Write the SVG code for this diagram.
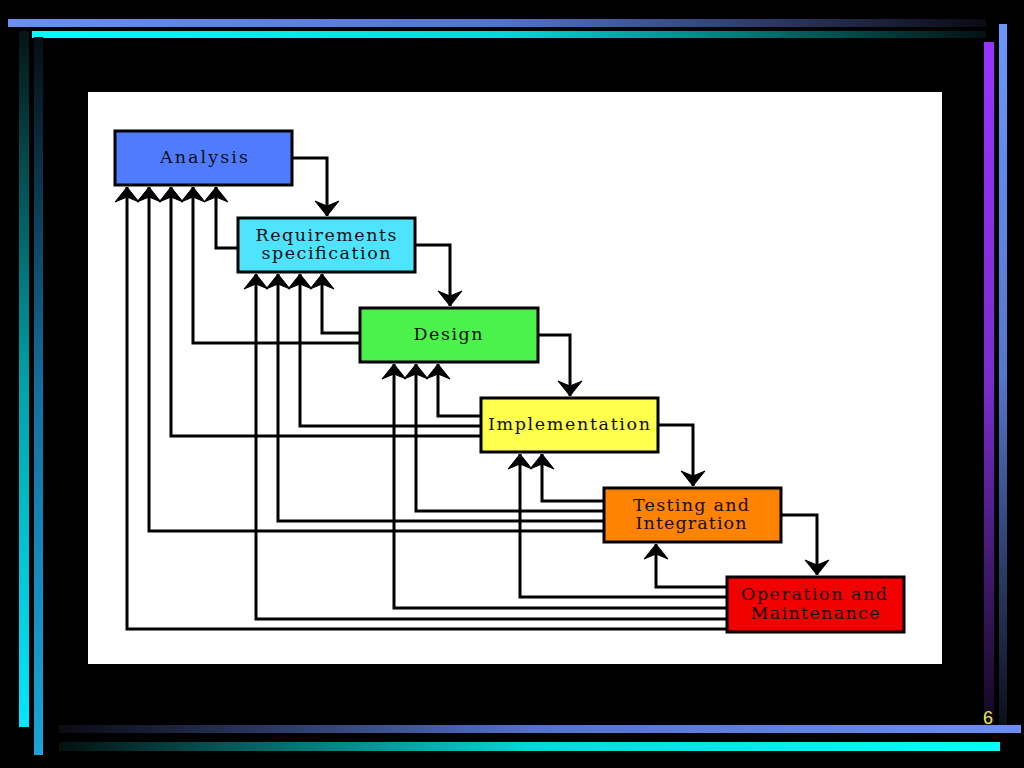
<svg xmlns="http://www.w3.org/2000/svg" width="1024" height="768" viewBox="0 0 1024 768">
<style>
.box{stroke:#000;stroke-width:3}
.lbl{font-family:"DejaVu Serif","Liberation Serif",serif;font-size:17.5px;fill:#111;text-anchor:middle}
.con{fill:none;stroke:#000;stroke-width:3;marker-end:url(#ah)}
</style>
<defs>
<marker id="ah" markerUnits="userSpaceOnUse" viewBox="-17 -14 18 28" markerWidth="18" markerHeight="28" refX="0" refY="0" orient="auto">
<path d="M0,0 L-15,-12 L-10,0 L-15,12 Z" fill="#000" stroke="#000" stroke-width="1" stroke-linejoin="round"/>
</marker>
<linearGradient id="gTopBlue" x1="0" y1="0" x2="1" y2="0"><stop offset="0" stop-color="#6b8ff2"/><stop offset="0.5" stop-color="#5474cc"/><stop offset="1" stop-color="#0a0a12"/></linearGradient>
<linearGradient id="gTopCyan" x1="0" y1="0" x2="1" y2="0"><stop offset="0" stop-color="#00ffff"/><stop offset="0.5" stop-color="#00d8d8"/><stop offset="1" stop-color="#041010"/></linearGradient>
<linearGradient id="gBotBlue" x1="0" y1="0" x2="1" y2="0"><stop offset="0" stop-color="#0a0a12"/><stop offset="0.5" stop-color="#5474cc"/><stop offset="1" stop-color="#6b8ff2"/></linearGradient>
<linearGradient id="gBotCyan" x1="0" y1="0" x2="1" y2="0"><stop offset="0" stop-color="#041010"/><stop offset="0.5" stop-color="#00d8d8"/><stop offset="1" stop-color="#00ffff"/></linearGradient>
<linearGradient id="gL1" x1="0" y1="0" x2="0" y2="1"><stop offset="0" stop-color="#061414"/><stop offset="0.5" stop-color="#00a0a8"/><stop offset="1" stop-color="#00e8ff"/></linearGradient>
<linearGradient id="gL2" x1="0" y1="0" x2="0" y2="1"><stop offset="0" stop-color="#060e14"/><stop offset="0.5" stop-color="#1470a0"/><stop offset="1" stop-color="#1aa4d8"/></linearGradient>
<linearGradient id="gR1" x1="0" y1="0" x2="0" y2="1"><stop offset="0" stop-color="#9933ff"/><stop offset="0.5" stop-color="#7a2ccc"/><stop offset="1" stop-color="#120820"/></linearGradient>
<linearGradient id="gR2" x1="0" y1="0" x2="0" y2="1"><stop offset="0" stop-color="#6699ff"/><stop offset="0.5" stop-color="#5277cc"/><stop offset="1" stop-color="#0a0e18"/></linearGradient>
</defs>
<rect width="1024" height="768" fill="#000"/>
<g id="frame">
<rect x="8" y="19" width="978" height="8" fill="url(#gTopBlue)"/>
<rect x="32" y="31" width="954" height="7" fill="url(#gTopCyan)"/>
<rect x="19" y="31" width="10" height="696" fill="url(#gL1)"/>
<rect x="34" y="37" width="9" height="718" fill="url(#gL2)"/>
<rect x="984" y="42" width="10" height="683" fill="url(#gR1)"/>
<rect x="999" y="24" width="8" height="703" fill="url(#gR2)"/>
<rect x="59" y="725" width="962" height="8" fill="url(#gBotBlue)"/>
<rect x="59" y="742" width="941" height="9" fill="url(#gBotCyan)"/>
<text x="988" y="724" font-family="Liberation Sans, Arial, sans-serif" font-size="18" fill="#e8e84a" text-anchor="middle">6</text>
</g>
<rect id="panel" x="88" y="92" width="854" height="572" fill="#fff"/>
<g id="n-analysis">
<rect class="box" x="115" y="131" width="177" height="54" fill="#4f7cff"/>
<text class="lbl" x="204" y="163" textLength="88" lengthAdjust="spacing">Analysis</text>
</g>
<g id="n-requirements">
<rect class="box" x="238" y="218" width="177" height="54" fill="#4ee4ff"/>
<text class="lbl" x="326" y="241" textLength="141" lengthAdjust="spacing">Requirements</text>
<text class="lbl" x="326" y="259" textLength="129" lengthAdjust="spacing">specification</text>
</g>
<g id="n-design">
<rect class="box" x="360" y="308" width="178" height="54" fill="#4cf24c"/>
<text class="lbl" x="448" y="340" textLength="69" lengthAdjust="spacing">Design</text>
</g>
<g id="n-implementation">
<rect class="box" x="481" y="398" width="177" height="54" fill="#ffff4d"/>
<text class="lbl" x="569" y="430" textLength="162" lengthAdjust="spacing">Implementation</text>
</g>
<g id="n-testing">
<rect class="box" x="604" y="488" width="177" height="54" fill="#ff8200"/>
<text class="lbl" x="691" y="511" textLength="116" lengthAdjust="spacing">Testing and</text>
<text class="lbl" x="691" y="529" textLength="111" lengthAdjust="spacing">Integration</text>
</g>
<g id="n-operation">
<rect class="box" x="727" y="577" width="177" height="55" fill="#f20000"/>
<text class="lbl" x="814" y="600" textLength="146" lengthAdjust="spacing">Operation and</text>
<text class="lbl" x="815" y="619" textLength="129" lengthAdjust="spacing">Maintenance</text>
</g>
<g id="connectors">
<path class="con" d="M292,158 H327 V216"/>
<path class="con" d="M415,245 H450 V306"/>
<path class="con" d="M538,335 H570 V396"/>
<path class="con" d="M658,425 H693 V486"/>
<path class="con" d="M781,515 H817 V575"/>
<path class="con" d="M238,248 H216 V187"/>
<path class="con" d="M360,343 H193 V187"/>
<path class="con" d="M481,436 H171 V187"/>
<path class="con" d="M604,531 H149 V187"/>
<path class="con" d="M727,629 H127 V187"/>
<path class="con" d="M360,333 H322 V274"/>
<path class="con" d="M481,426 H300 V274"/>
<path class="con" d="M604,521 H278 V274"/>
<path class="con" d="M727,619 H256 V274"/>
<path class="con" d="M481,416 H438 V364"/>
<path class="con" d="M604,511 H416 V364"/>
<path class="con" d="M727,608 H394 V364"/>
<path class="con" d="M604,501 H542 V454"/>
<path class="con" d="M727,597 H520 V454"/>
<path class="con" d="M727,587 H656 V544"/>
</g>
</svg>
